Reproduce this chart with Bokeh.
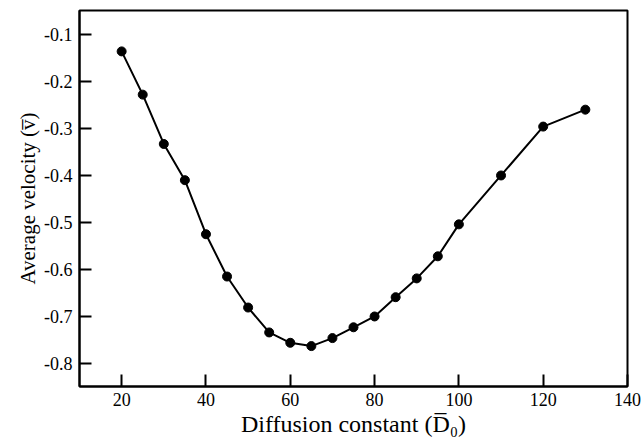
from bokeh.plotting import figure
from bokeh.models import Range1d, FixedTicker, CustomJSTickFormatter, Title
from bokeh.embed import file_html
from bokeh.resources import INLINE

diffusion = [20, 25, 30, 35, 40, 45, 50, 55, 60, 65, 70, 75, 80, 85, 90, 95, 100, 110, 120, 130]
velocity = [-0.137, -0.229, -0.334, -0.411, -0.526, -0.616, -0.682, -0.735, -0.757, -0.764,
            -0.747, -0.724, -0.701, -0.660, -0.620, -0.573, -0.505, -0.401, -0.297, -0.261]
x_ticks = [20, 40, 60, 80, 100, 120, 140]
y_ticks = [-0.8, -0.7, -0.6, -0.5, -0.4, -0.3, -0.2, -0.1]
x_min, x_max = 10, 140
y_min, y_max = -0.85, -0.05

FONT = "Liberation Serif"
W, H = 644, 445
BL, BR, BT, BB = 79, 17, 10, 59

p = figure(width=W, height=H, output_backend="svg", toolbar_location=None,
           x_range=Range1d(x_min, x_max), y_range=Range1d(y_min, y_max),
           min_border_left=BL, min_border_right=BR, min_border_top=BT, min_border_bottom=BB)

p.line(diffusion, velocity, line_color="black", line_width=2)
p.scatter(diffusion, velocity, size=9, fill_color="black", line_color="black")

p.grid.visible = False
p.outline_line_color = "black"
p.outline_line_width = 2

for ax in (p.xaxis[0], p.yaxis[0]):
    ax.axis_line_width = 2
    ax.axis_line_color = "black"
    ax.major_tick_in = 12
    ax.major_tick_out = 0
    ax.major_tick_line_width = 2
    ax.major_tick_line_color = "black"
    ax.minor_tick_line_color = None
    ax.major_label_text_font = FONT
    ax.major_label_text_font_size = "18px"
    ax.major_label_text_color = "black"
    ax.axis_label_text_font = FONT
    ax.axis_label_text_font_style = "normal"
    ax.axis_label_text_color = "black"

p.xaxis.axis_label_text_font_size = "24px"
p.xaxis.ticker = FixedTicker(ticks=x_ticks)
p.yaxis.ticker = FixedTicker(ticks=y_ticks)
p.xaxis.formatter = CustomJSTickFormatter(code="return tick.toFixed(0);")
p.yaxis.formatter = CustomJSTickFormatter(code="return tick.toFixed(1);")
p.xaxis.major_label_standoff = 6
p.yaxis.major_label_standoff = 7
p.xaxis.axis_label = "Diffusion constant (D\u0305\u2080)"
p.xaxis.axis_label_standoff = 2

ytitle = Title(text="Average velocity (v\u0305)", align="center", offset=16,
               text_font=FONT, text_font_size="21px", text_font_style="normal",
               text_color="black", standoff=4)
p.add_layout(ytitle, "left")

open("out.html", "w").write(file_html(p, INLINE))
